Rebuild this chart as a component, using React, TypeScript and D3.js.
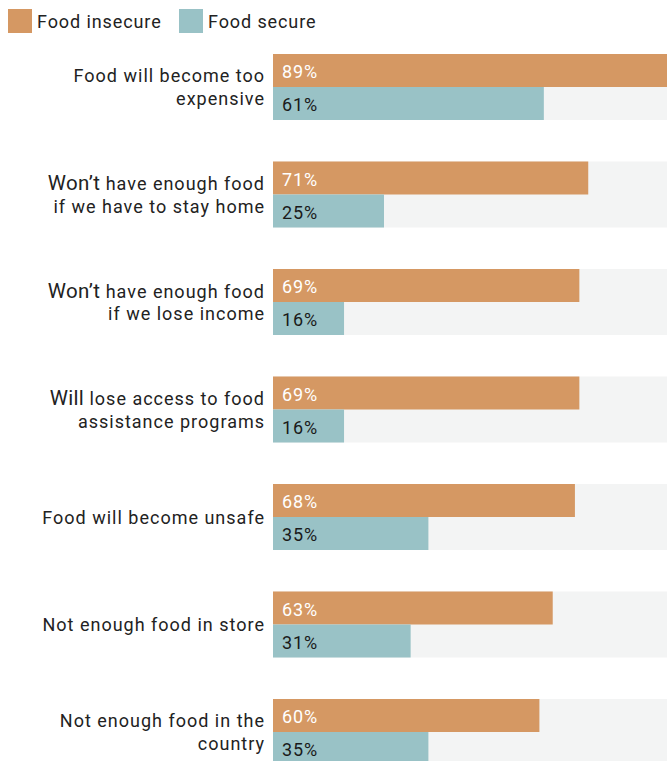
import React from "react";
import * as d3 from "d3";

const categories = [
  ["Food will become too", "expensive"],
  ["Won’t have enough food", "if we have to stay home"],
  ["Won’t have enough food", "if we lose income"],
  ["Will lose access to food", "assistance programs"],
  ["Food will become unsafe"],
  ["Not enough food in store"],
  ["Not enough food in the", "country"],
];
const insecure = [89, 71, 69, 69, 68, 63, 60];
const secure = [61, 25, 16, 16, 35, 31, 35];
const seriesNames = ["Food insecure", "Food secure"];
const seriesColors = ["#d59863", "#99c2c6"];
const textColors = ["#ffffff", "#1a1a1a"];

const W = 667;
const H = 761;
const FONT = "Roboto, 'Noto Sans', sans-serif";
const LS = 1.0;
const FW = 400;

function Label({ lines, y }: { lines: string[]; y: number }) {
  const x = 265;
  const offsets = lines.length === 1 ? [0] : [-11.5, 11.5];
  const bigWords = ["Won’t", "Will"];
  return (
    <g>
      {lines.map((ln, i) => {
        const first = ln.split(" ")[0];
        if (i === 0 && bigWords.includes(first)) {
          const rest = ln.slice(first.length);
          return (
            <text key={i} x={x} y={y + offsets[i]} textAnchor="end" dominantBaseline="central" fontSize={18} letterSpacing={LS} fontWeight={FW} fill="#222">
              <tspan fontSize={20.5} letterSpacing={0.3}>{first}</tspan>
              <tspan>{rest}</tspan>
            </text>
          );
        }
        return (
          <text key={i} x={x} y={y + offsets[i]} textAnchor="end" dominantBaseline="central" fontSize={18} letterSpacing={LS} fontWeight={FW} fill="#222">
            {ln}
          </text>
        );
      })}
    </g>
  );
}

export default function App() {
  const ids = categories.map((_, i) => String(i));
  const x = d3.scaleLinear().domain([0, 100]).range([273, 717]);
  const step = 107.5;
  const band = 66;
  const pi = (step - band) / step;
  const y = d3
    .scaleBand<string>()
    .domain(ids)
    .range([54 - (pi / 2) * step, 54 + 7 * step - (pi / 2) * step])
    .paddingInner(pi)
    .paddingOuter(pi / 2);
  const sub = d3.scaleBand<number>().domain([0, 1]).range([0, y.bandwidth()]);
  const series = [insecure, secure];

  return (
    <svg width={W} height={H} style={{ position: "absolute", left: 0, top: 0, fontFamily: FONT }}>
      {seriesNames.map((name, i) => {
        const lx = i === 0 ? 8 : 179;
        return (
          <g key={name}>
            <rect x={lx} y={9} width={24} height={24} fill={seriesColors[i]} />
            <text x={lx + 29} y={21.5} dominantBaseline="central" fontSize={18} letterSpacing={0.9} fontWeight={FW} fill="#222">
              {name}
            </text>
          </g>
        );
      })}
      {ids.map((id, ci) => {
        const top = y(id)!;
        return (
          <g key={id}>
            <rect x={x(0)} y={top} width={x(100) - x(0)} height={y.bandwidth()} fill="#f3f4f4" />
            {series.map((vals, si) => (
              <g key={si}>
                <rect x={x(0)} y={top + sub(si)!} width={x(vals[ci]) - x(0)} height={sub.bandwidth()} fill={seriesColors[si]} />
                <text x={x(0) + 9} y={top + sub(si)! + sub.bandwidth() / 2 + 1} dominantBaseline="central" fontSize={18} letterSpacing={0.9} fontWeight={FW} fill={textColors[si]}>
                  {vals[ci]}%
                </text>
              </g>
            ))}
            <Label lines={categories[ci]} y={top + y.bandwidth() / 2} />
          </g>
        );
      })}
    </svg>
  );
}
